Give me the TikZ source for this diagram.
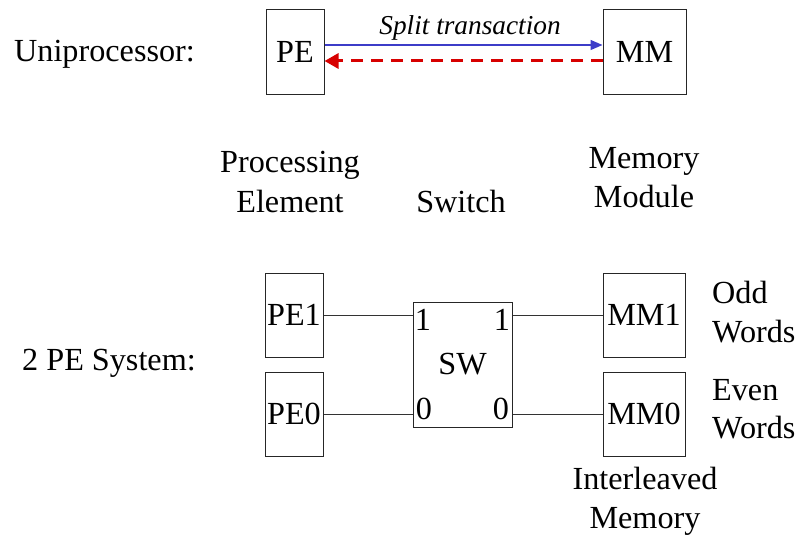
\documentclass[tikz,border=0pt]{standalone}
\usepackage{fontspec}
\setmainfont{Liberation Serif}
\usetikzlibrary{arrows.meta}
\begin{document}
\begin{tikzpicture}[x=1pt,y=-1pt,
  every node/.style={font=\fontsize{32.2}{38}\selectfont, inner sep=0pt},
  box/.style={draw=black!85, line width=1pt},
  lbl/.style={anchor=base},
  wire/.style={draw=black!80, line width=1pt},
  req/.style={draw={rgb,255:red,60;green,60;blue,200}, line width=1.3pt,
    -{Triangle[length=12pt,width=10pt]}},
  rsp/.style={draw={rgb,255:red,215;green,0;blue,0}, line width=3pt,
    dash pattern=on 12pt off 8pt, -{Triangle[length=14pt,width=15pt]}}]
\useasboundingbox (0,0) rectangle (806,540);
% Uniprocessor
\node[lbl, anchor=base west] (uni) at (14,62) {Uniprocessor:};
\node[box, minimum width=58pt, minimum height=85pt] (PE) at (295,52) {PE};
\node[box, minimum width=83pt, minimum height=85pt] (MM) at (644.5,52) {MM};
\node[lbl, font=\fontsize{27.3}{32}\selectfont\itshape] (split) at (470,35) {Split transaction};
\draw[req] ([yshift=7pt]PE.east) -- ([yshift=7pt]MM.west);
\draw[rsp] ([yshift=-9pt]MM.west) -- ([yshift=-9pt]PE.east);
% headings
\node[lbl] (pe1t) at (290,173) {Processing};
\node[lbl] (pe2t) at (290,213) {Element};
\node[lbl] (swt) at (461,213) {Switch};
\node[lbl] (mm1t) at (644,169) {Memory};
\node[lbl] (mm2t) at (644,208) {Module};
% 2 PE system
\node[lbl, anchor=base west] (sys) at (22,370) {2 PE System:};
\node[box, minimum width=58pt, minimum height=84pt] (PE1) at (294,315) {PE1};
\node[box, minimum width=58pt, minimum height=84pt] (PE0) at (294,414) {PE0};
\node[box, minimum width=99pt, minimum height=125pt] (SW) at (462.5,364.5) {SW};
\node[box, minimum width=82pt, minimum height=84pt] (MM1) at (644,315) {MM1};
\node[box, minimum width=82pt, minimum height=84pt] (MM0) at (644,414) {MM0};
\node (p1l) at (423,320) {1};
\node (p1r) at (502,320) {1};
\node (p0l) at (424,409) {0};
\node (p0r) at (501,409) {0};
\draw[wire] (PE1.east) -- (PE1.east -| SW.west);
\draw[wire] (PE0.east) -- (PE0.east -| SW.west);
\draw[wire] (MM1.west -| SW.east) -- (MM1.west);
\draw[wire] (MM0.west -| SW.east) -- (MM0.west);
\node[lbl, anchor=base west] (odd1) at (712,303) {Odd};
\node[lbl, anchor=base west] (odd2) at (712,342) {Words};
\node[lbl, anchor=base west] (even1) at (712,400) {Even};
\node[lbl, anchor=base west] (even2) at (712,438) {Words};
\node[lbl] (il1) at (645,489) {Interleaved};
\node[lbl] (il2) at (645,528) {Memory};
\end{tikzpicture}
\end{document}
